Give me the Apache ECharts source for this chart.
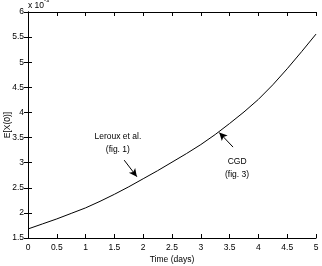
<!DOCTYPE html>
<html>
<head>
<meta charset="utf-8">
<script src="https://cdn.jsdelivr.net/npm/echarts@6/dist/echarts.min.js"></script>
<style>
  html, body { margin: 0; padding: 0; background: #fff; }
  #chart { width: 322px; height: 266px; }
</style>
</head>
<body>
<div id="chart"></div>
<script>
// time (days) and E[X(0)] in units of 1e-3
const timeDays = [0, 0.25, 0.5, 0.75, 1, 1.25, 1.5, 1.75, 2, 2.25, 2.5, 2.75, 3, 3.25, 3.5, 3.75, 4, 4.25, 4.5, 4.75, 5];
const meanX0 = [1.68, 1.78, 1.88, 1.99, 2.10, 2.23, 2.37, 2.52, 2.68, 2.84, 3.01, 3.18, 3.36, 3.56, 3.78, 4.01, 4.26, 4.55, 4.87, 5.21, 5.56];

const font = "'Liberation Sans', Arial, sans-serif";
const axisCommon = {
  axisLine: { show: true, lineStyle: { color: '#000', width: 1 } },
  axisTick: { show: true, inside: true, length: 4, lineStyle: { color: '#000' } },
  splitLine: { show: false }
};

const chart = echarts.init(document.getElementById('chart'));
chart.setOption({
  animation: false,
  textStyle: { fontFamily: font },
  grid: { left: 28, right: 6, top: 12, bottom: 28, containLabel: false, outerBoundsMode: 'none' },
  xAxis: [
    Object.assign({
      type: 'value', min: 0, max: 5, interval: 0.5,
      name: 'Time (days)', nameLocation: 'middle', nameGap: 17, nameMoveOverlap: false,
      nameTextStyle: { fontSize: 8.5, color: '#000', fontFamily: font },
      axisLabel: { fontSize: 8.5, color: '#000', margin: 5, fontFamily: font }
    }, axisCommon),
    Object.assign({
      type: 'value', min: 0, max: 5, interval: 0.5, position: 'top',
      axisLabel: { show: false }
    }, axisCommon)
  ],
  yAxis: [
    Object.assign({
      type: 'value', min: 1.5, max: 6, interval: 0.5,
      name: 'E[X(0)]', nameLocation: 'middle', nameGap: 16, nameRotate: 90, nameMoveOverlap: false,
      nameTextStyle: { fontSize: 8.5, color: '#000', fontFamily: font },
      axisLabel: { fontSize: 8.5, color: '#000', margin: 4, fontFamily: font }
    }, axisCommon),
    Object.assign({
      type: 'value', min: 1.5, max: 6, interval: 0.5, position: 'right',
      axisLabel: { show: false }
    }, axisCommon)
  ],
  graphic: [
    {
      type: 'text', left: 28, top: -3,
      style: {
        text: '{b|x 10}{s|-3}',
        rich: {
          b: { fontSize: 8.5, fill: '#000', fontFamily: font, padding: [4, 0, 0, 0] },
          s: { fontSize: 6, fill: '#000', fontFamily: font, verticalAlign: 'top' }
        }
      }
    }
  ],
  series: [
    {
      type: 'line',
      data: timeDays.map((t, i) => [t, meanX0[i]]),
      showSymbol: false,
      smooth: false,
      lineStyle: { color: '#000', width: 1 },
      markLine: {
        silent: true,
        symbol: ['none', 'arrow'],
        symbolSize: [6, 8],
        lineStyle: { color: '#000', width: 1, type: 'solid' },
        label: { show: false },
        data: [
          [{ coord: [1.67, 3.05] }, { coord: [1.89, 2.72] }],
          [{ coord: [3.56, 3.31] }, { coord: [3.32, 3.6] }]
        ]
      },
      markPoint: {
        silent: true,
        symbol: 'circle',
        symbolSize: 0,
        label: {
          show: true, position: 'inside', color: '#000',
          fontSize: 8.5, lineHeight: 13, align: 'center', fontFamily: font,
          formatter: p => p.name
        },
        data: [
          { name: 'Leroux et al.\n(fig. 1)', coord: [1.56, 3.38] },
          { name: 'CGD\n(fig. 3)', coord: [3.63, 2.89] }
        ]
      }
    }
  ]
});
</script>
</body>
</html>
